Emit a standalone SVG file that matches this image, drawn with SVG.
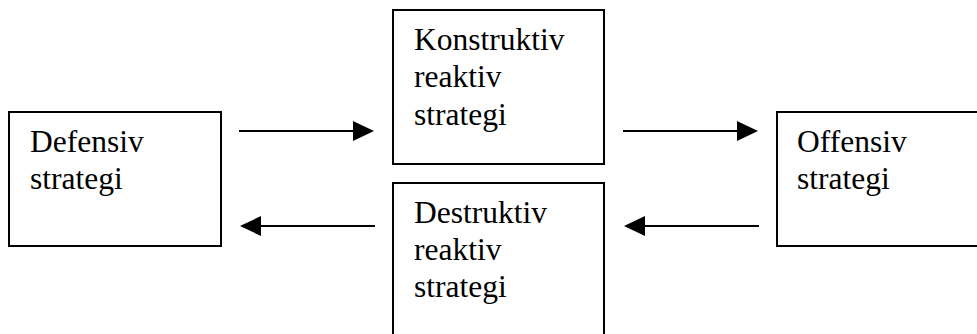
<svg xmlns="http://www.w3.org/2000/svg" width="977" height="334" viewBox="0 0 977 334">
<style>
.box{fill:#fff;stroke:#000;stroke-width:2}
.t{font-family:"Liberation Serif","Times New Roman",serif;font-size:31.5px;fill:#000}
.c{stroke:#000;stroke-width:2;fill:none}
.h{fill:#000}
</style>
<rect width="977" height="334" fill="#fff"/>
<g id="defensiv">
<rect class="box" x="9" y="112" width="212" height="134"/>
<text class="t" x="30" y="152">Defensiv</text>
<text class="t" x="30" y="189">strategi</text>
</g>
<g id="konstruktiv">
<rect class="box" x="393" y="10" width="211" height="154"/>
<text class="t" x="414" y="50">Konstruktiv</text>
<text class="t" x="414" y="87">reaktiv</text>
<text class="t" x="414" y="125">strategi</text>
</g>
<g id="destruktiv">
<rect class="box" x="393" y="183" width="211" height="165"/>
<text class="t" x="414" y="223">Destruktiv</text>
<text class="t" x="414" y="260">reaktiv</text>
<text class="t" x="414" y="297">strategi</text>
</g>
<g id="offensiv">
<rect class="box" x="777" y="112" width="215" height="134"/>
<text class="t" x="797" y="152">Offensiv</text>
<text class="t" x="797" y="189">strategi</text>
</g>
<g id="connectors">
<line class="c" x1="239" y1="131" x2="355" y2="131"/>
<polygon class="h" points="353,121 374,131 353,141"/>
<line class="c" x1="623" y1="131" x2="739" y2="131"/>
<polygon class="h" points="737,121 758,131 737,141"/>
<line class="c" x1="375" y1="226" x2="259" y2="226"/>
<polygon class="h" points="261,216 240,226 261,236"/>
<line class="c" x1="759" y1="226" x2="643" y2="226"/>
<polygon class="h" points="645,216 624,226 645,236"/>
</g>
</svg>
